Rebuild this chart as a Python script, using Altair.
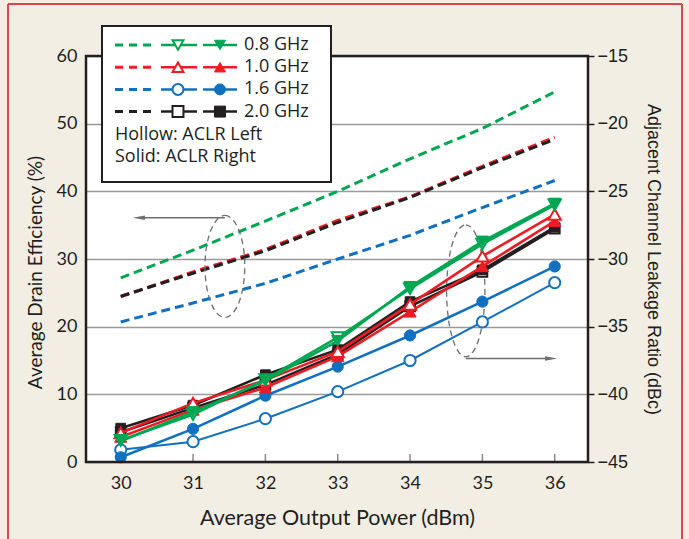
import altair as alt
import pandas as pd

# ---------------- data ----------------
power = [30, 31, 32, 33, 34, 35, 36]
freqs = ["0.8 GHz", "1.0 GHz", "1.6 GHz", "2.0 GHz"]
colors = ["#00a651", "#ed1c24", "#1170c0", "#231f20"]
shapes = ["triangle-down", "triangle-up", "circle", "square"]

# Average drain efficiency (%) - dashed lines, left axis
eff_08 = [27.2, 31.3, 35.6, 40.0, 44.8, 49.3, 54.7]
eff_10 = [24.4, 28.1, 31.4, 35.7, 39.2, 43.7, 48.0]
eff_16 = [20.7, 23.5, 26.4, 30.0, 33.5, 37.6, 41.6]
eff_20 = [24.5, 27.9, 31.2, 35.4, 39.1, 43.5, 47.7]

# ACLR (dBc) - right axis; left = hollow, right = solid
aclr_left_08 = [-43.4, -41.5, -38.9, -35.8, -32.2, -28.9, -26.0]
aclr_right_08 = [-43.45, -41.3, -39.0, -36.05, -32.05, -28.7, -25.9]
aclr_left_10 = [-42.85, -40.65, -38.95, -36.85, -33.35, -29.8, -26.7]
aclr_right_10 = [-43.15, -41.15, -39.5, -37.2, -33.9, -30.55, -27.2]
aclr_left_16 = [-44.1, -43.5, -41.8, -39.8, -37.5, -34.65, -31.75]
aclr_right_16 = [-44.65, -42.55, -40.1, -37.95, -35.65, -33.15, -30.55]
aclr_left_20 = [-42.8, -41.0, -39.3, -37.05, -33.5, -30.95, -27.75]
aclr_right_20 = [-42.5, -40.8, -38.55, -36.7, -33.15, -30.8, -27.65]

left_ticks = [0, 10, 20, 30, 40, 50, 60]
right_ticks = [-45, -40, -35, -30, -25, -20, -15]
legend_notes = ["Hollow: ACLR Left", "Solid: ACLR Right"]

# annotation ellipses / arrows (data units of power / efficiency)
ell_x = [31.44, 34.77]
ell_y = [28.9, 25.3]
arrow_x1 = [31.44, 34.77]
arrow_x2 = [30.25, 35.95]
arrow_y = [36.1, 15.3]

# ---------------- styling ----------------
W, H = 502, 406
BG = "#f2eee4"
INK = "#231f20"
GREY = "#6d6e71"
FONT = "Lato"
FONT_LEG = "Open Sans"
FONT2 = "Liberation Sans"

XDOM = [29.52, 36.46]


def xs():
    return alt.Scale(domain=XDOM, nice=False, zero=False)


def ls():
    return alt.Scale(domain=[0, 60], nice=False, zero=False)


def rs():
    return alt.Scale(domain=[-45, -15], nice=False, zero=False)


def x_axis():
    return alt.Axis(
        values=power, title="Average Output Power (dBm)", grid=False, ticks=False,
        domain=False, labelFontSize=18, labelPadding=12, labelFont=FONT,
        labelColor=INK, titleFont=FONT, titleFontSize=21.5, titleFontWeight="normal",
        titleColor=INK, titleBaseline="alphabetic", titleY=62, orient="bottom")


def left_axis():
    return alt.Axis(
        values=left_ticks, orient="left", title="Average Drain Efficiency (%)",
        grid=True, gridColor="#9a9a9a", gridWidth=1.6, ticks=False, domain=False,
        labelFontSize=18, labelFont=FONT, labelColor=INK, labelPadding=9,
        titleFont=FONT, titleFontSize=19, titleFontWeight="normal", titleColor=INK,
        titleAngle=-90, titleX=-51, titleY=216, titleAlign="center",
        titleBaseline="middle")


def right_axis():
    return alt.Axis(
        values=right_ticks, orient="right", title="Adjacent Channel Leakage Ratio (dBc)",
        grid=False, ticks=True, tickSize=6, tickColor=INK, tickWidth=1.5, domain=False,
        labelFontSize=18, labelFont=FONT2, labelColor=INK, labelPadding=3,
        titleFont=FONT2, titleFontSize=18, titleFontWeight="normal", titleColor=INK,
        titleAngle=90, titleX=64, titleY=203, titleAlign="center", titleBaseline="middle")


def X(field="P"):
    return alt.X(f"{field}:Q", scale=xs(), axis=x_axis(), title="Average Output Power (dBm)")


def YL(field="v", with_axis=False):
    if with_axis:
        return alt.Y(f"{field}:Q", scale=ls(), axis=left_axis(),
                     title="Average Drain Efficiency (%)")
    return alt.Y(f"{field}:Q", scale=ls(), axis=None)


def YR(field="a", with_axis=False):
    if with_axis:
        return alt.Y(f"{field}:Q", scale=rs(), axis=right_axis(),
                     title="Adjacent Channel Leakage Ratio (dBc)")
    return alt.Y(f"{field}:Q", scale=rs(), axis=None)


cscale = alt.Scale(domain=freqs, range=colors)

eff_df = pd.concat([
    pd.DataFrame({"P": power, "v": vals, "freq": f})
    for f, vals in zip(freqs, [eff_08, eff_10, eff_16, eff_20])
])

left_layers = []

left_layers.append(alt.Chart(eff_df).mark_line(strokeDash=[9, 5], strokeWidth=3).encode(
    x=X(), y=YL(with_axis=True),
    color=alt.Color("freq:N", scale=cscale, legend=None),
    detail="freq:N",
))


def ell_path(a):
    k = 0.5523
    return (f"M0,-1 C{a*k:.3f},-1 {a:.3f},{-k} {a:.3f},0 "
            f"C{a:.3f},{k} {a*k:.3f},1 0,1 "
            f"C{-a*k:.3f},1 {-a:.3f},{k} {-a:.3f},0 "
            f"C{-a:.3f},{-k} {-a*k:.3f},-1 0,-1 Z")


for i, (a, h) in enumerate([(0.39, 102), (0.29, 132)]):
    d = pd.DataFrame({"P": [ell_x[i]], "v": [ell_y[i]]})
    left_layers.append(alt.Chart(d).mark_point(
        shape=ell_path(a), size=h * h, filled=False, opacity=1,
        stroke=GREY, strokeWidth=1.3, strokeDash=[6, 4]).encode(x=X(), y=YL()))

arr_df = pd.DataFrame({"P": arrow_x1, "P2": arrow_x2, "v": arrow_y})
left_layers.append(alt.Chart(arr_df).mark_rule(color=GREY, strokeWidth=1.4).encode(
    x=X(), x2="P2:Q", y=YL()))
for i, path in enumerate(["M-1,0 L1,-0.38 L1,0.38 Z", "M1,0 L-1,-0.38 L-1,0.38 Z"]):
    left_layers.append(alt.Chart(arr_df.iloc[[i]]).mark_point(
        shape=path, size=150, filled=True, opacity=1, color=GREY).encode(
        x=X("P2"), y=YL()))

tick_df = pd.DataFrame({"P": power})
left_layers.append(alt.Chart(tick_df).mark_rule(color="#8a8a8a", strokeWidth=1.5).encode(
    x=X(), y=alt.value(H), y2=alt.value(H - 8)))

# ACLR series
series = [
    ("1.6 GHz", "L", aclr_left_16, 2.0),
    ("1.6 GHz", "R", aclr_right_16, 2.6),
    ("2.0 GHz", "L", aclr_left_20, 2.6),
    ("2.0 GHz", "R", aclr_right_20, 2.6),
    ("1.0 GHz", "R", aclr_right_10, 2.6),
    ("1.0 GHz", "L", aclr_left_10, 2.6),
    ("0.8 GHz", "L", aclr_left_08, 2.6),
    ("0.8 GHz", "R", aclr_right_08, 2.6),
]
size_of = {"triangle-down": 150, "triangle-up": 150, "circle": 125, "square": 95}

right_layers = []
first = True
for f, side, vals, lw in series:
    df = pd.DataFrame({"P": power, "a": vals})
    col = colors[freqs.index(f)]
    shp = shapes[freqs.index(f)]
    right_layers.append(alt.Chart(df).mark_line(color=col, strokeWidth=lw).encode(
        x=X(), y=YR(with_axis=first)))
    first = False
    if side == "L":
        mk = alt.Chart(df).mark_point(shape=shp, size=size_of[shp], filled=True,
                                      fill="white", stroke=col, strokeWidth=2, opacity=1)
    else:
        mk = alt.Chart(df).mark_point(shape=shp, size=size_of[shp], filled=True,
                                      fill=col, stroke=col, strokeWidth=1, opacity=1)
    right_layers.append(mk.encode(x=X(), y=YR()))

# ---------------- frame, legend, border ----------------
one = pd.DataFrame({"k": [0]})
deco = []
deco.append(alt.Chart(one).mark_rect(fillOpacity=0, stroke=INK, strokeWidth=2.5).encode(
    x=alt.value(0), x2=alt.value(W), y=alt.value(0), y2=alt.value(H)))

border_col = "#dc4650"
deco.append(alt.Chart(one).mark_rule(color=border_col, strokeWidth=2).encode(
    x=alt.value(-78), y=alt.value(-52), y2=alt.value(490)))
deco.append(alt.Chart(one).mark_rule(color=border_col, strokeWidth=2).encode(
    x=alt.value(596), y=alt.value(-52), y2=alt.value(490)))
deco.append(alt.Chart(one).mark_rule(color=border_col, strokeWidth=2).encode(
    x=alt.value(-78), x2=alt.value(596), y=alt.value(-52)))

deco.append(alt.Chart(one).mark_rect(fill="white", stroke=INK, strokeWidth=2).encode(
    x=alt.value(16), x2=alt.value(245), y=alt.value(-30), y2=alt.value(126)))

row_y = [-11 + 22.2 * i for i in range(4)]
for i, f in enumerate(freqs):
    col = colors[i]
    shp = shapes[i]
    yy = row_y[i]
    deco.append(alt.Chart(one).mark_rule(color=col, strokeDash=[8, 6], strokeWidth=3).encode(
        x=alt.value(29), x2=alt.value(66), y=alt.value(yy)))
    deco.append(alt.Chart(one).mark_rule(color=col, strokeWidth=2.5).encode(
        x=alt.value(75), x2=alt.value(111), y=alt.value(yy)))
    deco.append(alt.Chart(one).mark_point(shape=shp, size=120, filled=True, fill="white",
                                          stroke=col, strokeWidth=2, opacity=1).encode(
        x=alt.value(92), y=alt.value(yy)))
    deco.append(alt.Chart(one).mark_rule(color=col, strokeWidth=2.5).encode(
        x=alt.value(117), x2=alt.value(151), y=alt.value(yy)))
    deco.append(alt.Chart(one).mark_point(shape=shp, size=120, filled=True, fill=col,
                                          stroke=col, strokeWidth=1, opacity=1).encode(
        x=alt.value(134), y=alt.value(yy)))
    deco.append(alt.Chart(one).mark_text(align="left", baseline="middle", fontSize=18,
                                         font=FONT_LEG, color=INK, text=f).encode(
        x=alt.value(158), y=alt.value(yy)))
for j, t in enumerate(legend_notes):
    deco.append(alt.Chart(one).mark_text(align="left", baseline="middle", fontSize=18,
                                         font=FONT_LEG, color=INK, text=t).encode(
        x=alt.value(29), y=alt.value(79 + 22 * j)))

chart = alt.layer(*left_layers, *right_layers, *deco).resolve_scale(
    y="independent").properties(
    width=W, height=H,
    autosize=alt.AutoSizeParams(type="none"),
    padding={"left": 86, "top": 56, "right": 101, "bottom": 77},
    background=BG,
).configure_view(fill="white", strokeWidth=0)

chart.save("out.html", embed_options={"renderer": "svg", "actions": False})
